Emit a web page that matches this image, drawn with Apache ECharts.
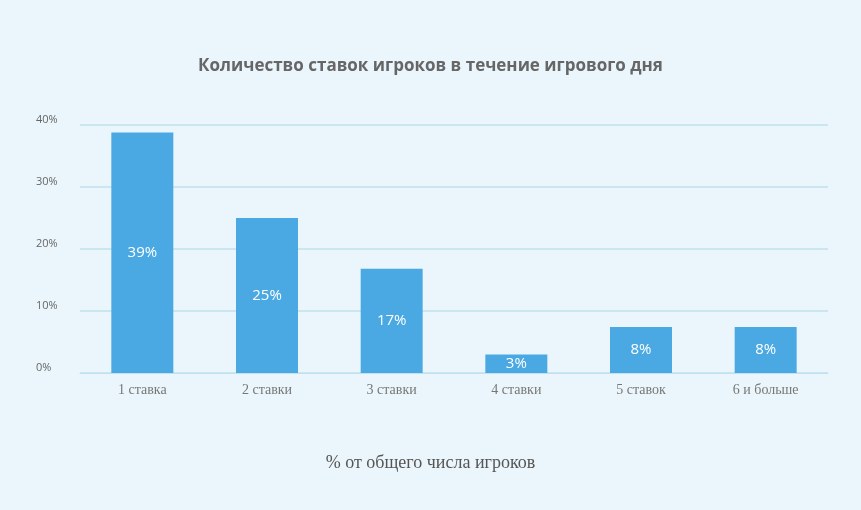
<!DOCTYPE html>
<html>
<head>
<meta charset="utf-8">
<script src="https://cdn.jsdelivr.net/npm/echarts@6/dist/echarts.min.js"></script>
<style>
  html, body {margin: 0; padding: 0; background: #eaf6fb;}
  #chart {width: 861px; height: 510px;}
</style>
</head>
<body>
<div id="chart"></div>
<script>
const categories = ['1 ставка', '2 ставки', '3 ставки', '4 ставки', '5 ставок', '6 и больше']
const values = [38.8, 25, 16.8, 3, 7.4, 7.4]
const valueLabels = ['39%', '25%', '17%', '3%', '8%', '8%']
const yTicks = [0, 10, 20, 30, 40]

const chart = echarts.init(document.getElementById('chart'))
chart.setOption({
  backgroundColor: '#eaf6fb',
  title: {
    text: 'Количество ставок игроков в течение игрового дня',
    left: 'center',
    top: 53,
    textStyle: {color: '#666', fontSize: 17, fontWeight: 'bold', fontFamily: 'Open Sans'},
  },
  grid: {left: 80, right: 33, top: 125, bottom: 137},
  xAxis: {
    type: 'category',
    data: categories,
    axisTick: {show: false},
    axisLine: {lineStyle: {color: '#bfe2ee'}},
    axisLabel: {color: '#777', fontSize: 14, fontFamily: 'Liberation Sans Narrow', margin: 10},
  },
  yAxis: {
    type: 'value',
    min: yTicks[0],
    max: yTicks[yTicks.length - 1],
    interval: 10,
    axisLine: {show: false},
    axisTick: {show: false},
    splitLine: {lineStyle: {color: '#bfe2ee', width: 1.5}},
    axisLabel: {
      formatter: '{value}%',
      color: '#666',
      fontSize: 11,
      fontFamily: 'Open Sans',
      align: 'left',
      verticalAlign: 'bottom',
      margin: 44,
    },
  },
  graphic: [{
    type: 'text',
    left: 'center',
    top: 454,
    style: {text: '% от общего числа игроков', fill: '#555', fontSize: 18, fontFamily: 'Liberation Sans Narrow'},
  }],
  series: [{
    type: 'bar',
    data: values,
    barWidth: 62,
    itemStyle: {color: '#4aa9e3'},
    label: {
      show: true,
      position: 'inside',
      color: '#fff',
      fontSize: 15,
      fontFamily: 'Open Sans',
      formatter: (p) => valueLabels[p.dataIndex],
    },
  }],
})
</script>
</body>
</html>
